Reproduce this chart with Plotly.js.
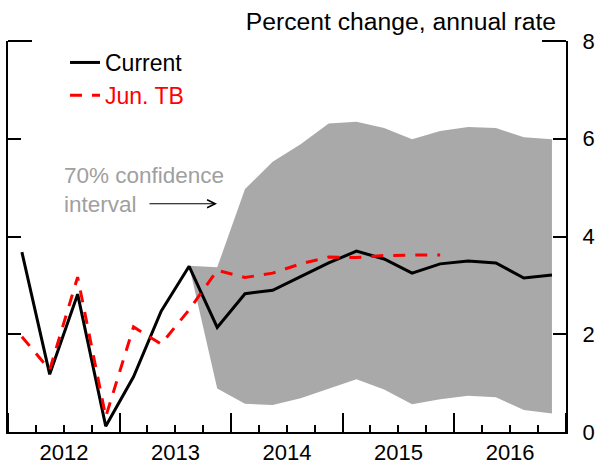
<!DOCTYPE html>
<html>
<head>
<meta charset="utf-8">
<script src="https://cdn.plot.ly/plotly-3.0.1.min.js"></script>
<style>html,body{margin:0;padding:0;background:#fff;}#chart{width:595px;height:466px;}</style>
</head>
<body>
<div id="chart"></div>
<script>
// Quarter start dates (points drawn at mid-quarter via xperiod)
const currentQuarters = ['2012-01-01','2012-04-01','2012-07-01','2012-10-01',
  '2013-01-01','2013-04-01','2013-07-01','2013-10-01',
  '2014-01-01','2014-04-01','2014-07-01','2014-10-01',
  '2015-01-01','2015-04-01','2015-07-01','2015-10-01',
  '2016-01-01','2016-04-01','2016-07-01','2016-10-01'];
const currentValues = [3.68, 1.18, 2.82, 0.12, 1.13, 2.47, 3.39, 2.14, 2.83, 2.90,
  3.18, 3.46, 3.70, 3.54, 3.25, 3.44, 3.50, 3.46, 3.15, 3.21];

const junQuarters = currentQuarters.slice(0, 16);
const junValues = [1.95, 1.27, 3.17, 0.31, 2.15, 1.80, 2.50, 3.31, 3.16, 3.25,
  3.44, 3.58, 3.57, 3.61, 3.62, 3.62];

const bandQuarters = currentQuarters.slice(6);
const bandUpper = [3.40, 3.37, 4.97, 5.53, 5.89, 6.31, 6.35, 6.22, 5.99, 6.16, 6.24, 6.22, 6.03, 5.99];
const bandLower = [3.40, 0.89, 0.58, 0.55, 0.69, 0.89, 1.08, 0.87, 0.57, 0.67, 0.74, 0.71, 0.45, 0.38];

const yTicks = [0, 2, 4, 6, 8];

const FONT = 'Liberation Sans, Arial, sans-serif';
const per = {xperiod: 'M3', xperiodalignment: 'middle'};

const traces = [
  Object.assign({x: bandQuarters, y: bandLower, type: 'scatter', mode: 'lines',
    line: {width: 0, color: '#a9a9a9'}, showlegend: false, hoverinfo: 'skip'}, per),
  Object.assign({x: bandQuarters, y: bandUpper, type: 'scatter', mode: 'lines',
    fill: 'tonexty', fillcolor: '#a9a9a9',
    line: {width: 0, color: '#a9a9a9'}, showlegend: false, hoverinfo: 'skip'}, per),
  Object.assign({x: currentQuarters, y: currentValues, type: 'scatter', mode: 'lines',
    name: 'Current', line: {color: '#000000', width: 3}}, per),
  Object.assign({x: junQuarters, y: junValues, type: 'scatter', mode: 'lines',
    name: '<span style="color:#ff0000">Jun. TB</span>',
    line: {color: '#ff0000', width: 3, dash: '12px,10px'}}, per)
];

const W = 558; // plot width in px
const layout = {
  width: 595, height: 466,
  margin: {l: 8, r: 29, t: 41, b: 34, pad: 0},
  paper_bgcolor: '#ffffff', plot_bgcolor: '#ffffff',
  font: {family: FONT, size: 22, color: '#000000'},
  title: {text: 'Percent change, annual rate', font: {family: FONT, size: 24.7, color: '#000000'},
    xref: 'container', x: 556/595, xanchor: 'right', yref: 'container', y: 1 - 21/466, yanchor: 'middle'},
  showlegend: true,
  legend: {x: 57/W, xanchor: 'left', y: 1.0, yanchor: 'top', bgcolor: 'rgba(0,0,0,0)',
    font: {family: FONT, size: 23, color: '#000000'}, traceorder: 'normal', tracegroupgap: 0},
  xaxis: {
    type: 'date', range: ['2012-01-01', '2017-01-01'],
    tick0: '2012-01-01', dtick: 'M12', ticklabelmode: 'period', tickformat: '%Y',
    ticks: 'inside', ticklen: 19, tickwidth: 2, tickcolor: '#000',
    minor: {dtick: 'M3', tick0: '2012-01-01', ticks: 'inside', ticklen: 7, tickwidth: 2, tickcolor: '#000', showgrid: false},
    showline: true, linewidth: 2, linecolor: '#000', mirror: false,
    showgrid: false, zeroline: false, fixedrange: true,
    tickfont: {family: FONT, size: 22, color: '#000'}
  },
  yaxis: {
    side: 'right', range: [0, 8], tickvals: yTicks, ticktext: yTicks.map(String),
    ticks: 'inside', ticklen: 13, tickwidth: 2, tickcolor: '#000',
    showline: true, linewidth: 2, linecolor: '#000', mirror: 'ticks',
    showgrid: false, zeroline: false, fixedrange: true, ticklabelstandoff: 10,
    tickfont: {family: FONT, size: 22, color: '#000'}
  },
  shapes: [
    {type: 'line', xref: 'paper', yref: 'paper', x0: 0, x1: 24/W, y0: 1, y1: 1, line: {color: '#000', width: 2}},
    {type: 'line', xref: 'paper', yref: 'paper', x0: 1 - 24/W, x1: 1, y0: 1, y1: 1, line: {color: '#000', width: 2}}
  ],
  annotations: [
    {text: '70% confidence<br>interval', xref: 'paper', yref: 'y', x: 54/W, y: 4.95,
      xanchor: 'left', yanchor: 'middle', align: 'left', showarrow: false,
      font: {family: FONT, size: 22.5, color: '#a0a0a0'}},
    {text: '', xref: 'paper', yref: 'y', x: 209/W, y: 4.67, ax: -69, ay: 0,
      showarrow: true, arrowhead: 5, arrowsize: 1.6, arrowwidth: 1, arrowcolor: '#000', standoff: 0, startstandoff: 0}
  ]
};

Plotly.newPlot('chart', traces, layout, {staticPlot: true, displayModeBar: false});
</script>
</body>
</html>
